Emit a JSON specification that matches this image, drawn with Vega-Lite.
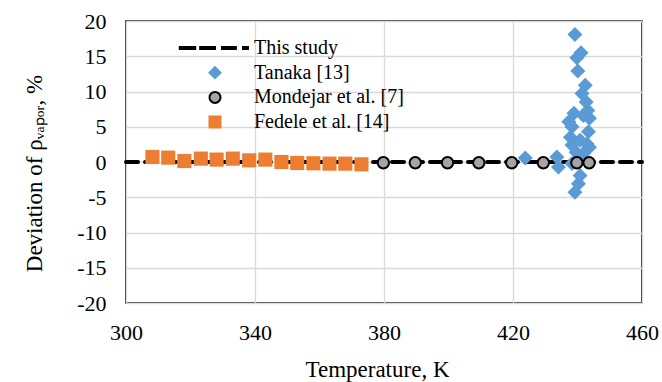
{
  "$schema": "https://vega.github.io/schema/vega-lite/v6.json",
  "width": 516,
  "height": 282,
  "autosize": {"type": "none"},
  "padding": {"left": 126, "top": 21, "right": 20, "bottom": 79},
  "background": "white",
  "config": {
    "font": "Liberation Serif",
    "view": {"stroke": "#000000", "strokeWidth": 1.5},
    "axis": {
      "labelFont": "Liberation Serif",
      "labelFontSize": 22,
      "labelColor": "#000000",
      "labelFlush": false,
      "labelOverlap": false,
      "titleFont": "Liberation Serif",
      "titleFontSize": 23,
      "titleFontWeight": "normal",
      "titleColor": "#000000",
      "domain": false,
      "ticks": false,
      "gridColor": "#d9d9d9",
      "gridWidth": 1.3,
      "gridOpacity": 1
    },
    "legend": {
      "labelFont": "Liberation Serif",
      "labelFontSize": 20,
      "labelColor": "#000000",
      "symbolSize": 121,
      "symbolStrokeWidth": 2,
      "padding": 0,
      "rowPadding": 4.7,
      "labelOffset": 29,
      "labelLimit": 400
    }
  },
  "datasets": {
    "study": [
      {"T": 300, "dev": 0},
      {"T": 460, "dev": 0}
    ],
    "tanaka": [
      {"series": "Tanaka [13]", "T": 439.2, "dev": 18.1},
      {"series": "Tanaka [13]", "T": 441.1, "dev": 15.5},
      {"series": "Tanaka [13]", "T": 439.8, "dev": 14.8},
      {"series": "Tanaka [13]", "T": 440.1, "dev": 12.9},
      {"series": "Tanaka [13]", "T": 442.4, "dev": 10.9},
      {"series": "Tanaka [13]", "T": 441.4, "dev": 9.7},
      {"series": "Tanaka [13]", "T": 442.7, "dev": 8.5},
      {"series": "Tanaka [13]", "T": 443.2, "dev": 7.3},
      {"series": "Tanaka [13]", "T": 438.9, "dev": 6.9},
      {"series": "Tanaka [13]", "T": 441.8, "dev": 6.6},
      {"series": "Tanaka [13]", "T": 443.7, "dev": 6.2},
      {"series": "Tanaka [13]", "T": 437.3, "dev": 5.7},
      {"series": "Tanaka [13]", "T": 438.3, "dev": 5.0},
      {"series": "Tanaka [13]", "T": 443.4, "dev": 4.3},
      {"series": "Tanaka [13]", "T": 437.8, "dev": 3.5},
      {"series": "Tanaka [13]", "T": 440.8, "dev": 3.1},
      {"series": "Tanaka [13]", "T": 442.9, "dev": 2.6},
      {"series": "Tanaka [13]", "T": 438.3, "dev": 2.4},
      {"series": "Tanaka [13]", "T": 443.7, "dev": 2.1},
      {"series": "Tanaka [13]", "T": 439.6, "dev": 1.4},
      {"series": "Tanaka [13]", "T": 441.8, "dev": 1.2},
      {"series": "Tanaka [13]", "T": 423.8, "dev": 0.57},
      {"series": "Tanaka [13]", "T": 433.6, "dev": 0.7},
      {"series": "Tanaka [13]", "T": 434.1, "dev": -0.7},
      {"series": "Tanaka [13]", "T": 438.3, "dev": -0.2},
      {"series": "Tanaka [13]", "T": 440.8, "dev": -1.9},
      {"series": "Tanaka [13]", "T": 440.3, "dev": -3.1},
      {"series": "Tanaka [13]", "T": 439.2, "dev": -4.3}
    ],
    "mondejar": [
      {"series": "Mondejar et al. [7]", "T": 379.8, "dev": -0.1},
      {"series": "Mondejar et al. [7]", "T": 389.7, "dev": -0.1},
      {"series": "Mondejar et al. [7]", "T": 399.7, "dev": -0.1},
      {"series": "Mondejar et al. [7]", "T": 409.4, "dev": -0.1},
      {"series": "Mondejar et al. [7]", "T": 419.6, "dev": -0.1},
      {"series": "Mondejar et al. [7]", "T": 429.4, "dev": -0.1},
      {"series": "Mondejar et al. [7]", "T": 439.8, "dev": -0.1},
      {"series": "Mondejar et al. [7]", "T": 443.6, "dev": -0.1}
    ],
    "fedele": [
      {"series": "Fedele et al. [14]", "T": 308.2, "dev": 0.71},
      {"series": "Fedele et al. [14]", "T": 313.1, "dev": 0.62},
      {"series": "Fedele et al. [14]", "T": 318.1, "dev": 0.14},
      {"series": "Fedele et al. [14]", "T": 323.2, "dev": 0.48},
      {"series": "Fedele et al. [14]", "T": 328.1, "dev": 0.34},
      {"series": "Fedele et al. [14]", "T": 333.1, "dev": 0.48},
      {"series": "Fedele et al. [14]", "T": 338.2, "dev": 0.24},
      {"series": "Fedele et al. [14]", "T": 343.2, "dev": 0.34},
      {"series": "Fedele et al. [14]", "T": 348.2, "dev": 0.0},
      {"series": "Fedele et al. [14]", "T": 353.1, "dev": -0.14},
      {"series": "Fedele et al. [14]", "T": 358.1, "dev": -0.18},
      {"series": "Fedele et al. [14]", "T": 363.1, "dev": -0.23},
      {"series": "Fedele et al. [14]", "T": 368.0, "dev": -0.23},
      {"series": "Fedele et al. [14]", "T": 373.0, "dev": -0.33}
    ]
  },
  "encoding": {
    "x": {
      "field": "T",
      "type": "quantitative",
      "scale": {"domain": [300, 460], "nice": false, "zero": false},
      "axis": {
        "values": [300, 340, 380, 420, 460],
        "labelExpr": "'' + datum.value",
        "title": "Temperature, K",
        "labelPadding": 19,
        "titleX": 251,
        "titleY": 73,
        "titleBaseline": "alphabetic",
        "titleAnchor": null,
        "titleAlign": "center"
      }
    },
    "y": {
      "field": "dev",
      "type": "quantitative",
      "scale": {"domain": [-20, 20], "nice": false},
      "axis": {
        "values": [-20, -15, -10, -5, 0, 5, 10, 15, 20],
        "labelExpr": "'' + datum.value",
        "title": "Deviation of ρᵥₐₚₒᵣ, %",
        "labelPadding": 20,
        "titleX": -85,
        "titleY": 152,
        "titleBaseline": "alphabetic",
        "titleAngle": -90,
        "titleAlign": "center"
      }
    }
  },
  "layer": [
    {
      "data": {"name": "study"},
      "mark": {"type": "line", "color": "#000000", "strokeWidth": 4, "strokeDash": [12, 7], "strokeCap": "round"},
      "encoding": {}
    },
    {
      "data": {"name": "tanaka"},
      "mark": {"type": "point", "filled": true, "opacity": 1, "size": 225, "strokeWidth": 0},
      "encoding": {
        "fill": {"field": "series", "type": "nominal", "scale": {"domain": ["This study", "Tanaka [13]", "Mondejar et al. [7]", "Fedele et al. [14]"], "range": ["#000000", "#5B9BD5", "#A5A5A5", "#ED7D31"]}, "legend": {"orient": "none", "legendX": 79, "legendY": 17, "title": null}},
        "stroke": {"field": "series", "type": "nominal", "scale": {"domain": ["This study", "Tanaka [13]", "Mondejar et al. [7]", "Fedele et al. [14]"], "range": ["#000000", "#5B9BD5", "#000000", "#ED7D31"]}, "legend": {"orient": "none", "legendX": 79, "legendY": 17, "title": null}},
        "shape": {"field": "series", "type": "nominal", "scale": {"domain": ["This study", "Tanaka [13]", "Mondejar et al. [7]", "Fedele et al. [14]"], "range": ["M-6.4,-0.18H-3.6V0.18H-6.4Z M-2.7,-0.18H0V0.18H-2.7Z M1.27,-0.18H3.8V0.18H1.27Z M5.1,-0.18H6V0.18H5.1Z", "diamond", "circle", "square"]}, "legend": {"orient": "none", "legendX": 79, "legendY": 17, "title": null}}
      }
    },
    {
      "data": {"name": "mondejar"},
      "mark": {"type": "point", "filled": true, "opacity": 1, "size": 130, "strokeWidth": 2},
      "encoding": {
        "fill": {"field": "series", "type": "nominal"},
        "stroke": {"field": "series", "type": "nominal"},
        "shape": {"field": "series", "type": "nominal"}
      }
    },
    {
      "data": {"name": "fedele"},
      "mark": {"type": "point", "filled": true, "opacity": 1, "size": 200, "strokeWidth": 0},
      "encoding": {
        "fill": {"field": "series", "type": "nominal"},
        "stroke": {"field": "series", "type": "nominal"},
        "shape": {"field": "series", "type": "nominal"}
      }
    }
  ]
}
